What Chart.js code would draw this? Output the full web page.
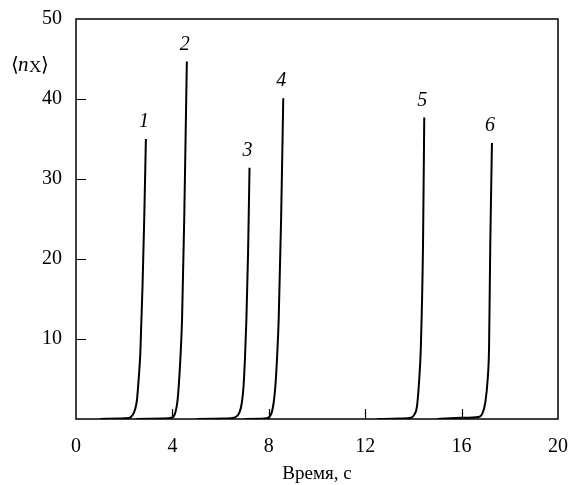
<!DOCTYPE html>
<html>
<head>
<meta charset="utf-8">
<script src="https://cdn.jsdelivr.net/npm/chart.js@4"></script>
<style>
    html, body { margin: 0; padding: 0; background: #fff; overflow: hidden; }
    #contenedor { width: 570px; height: 485px; }
    canvas { display: block; }
</style>
</head>
<body>
<div id="contenedor"><canvas id="grafica"></canvas></div>
<script>
// curvas (x en segundos, y = <nX>)
const x1 = [1.0, 1.8, 2.2, 2.35, 2.45, 2.53, 2.60, 2.67, 2.76, 2.83, 2.90];
const y1 = [0, 0.05, 0.12, 0.5, 1.2, 2.4, 5.0, 8.3, 16.6, 24.9, 35.0];
const x2 = [2.5, 3.6, 4.0, 4.12, 4.2, 4.26, 4.33, 4.40, 4.49, 4.56, 4.60];
const y2 = [0, 0.05, 0.2, 0.8, 2.0, 4.0, 7.5, 12.4, 24.9, 37.5, 44.7];
const x3 = [5.0, 6.2, 6.6, 6.78, 6.88, 6.95, 7.01, 7.07, 7.14, 7.20];
const y3 = [0, 0.05, 0.2, 0.8, 2.0, 4.0, 7.5, 12.4, 20.8, 31.4];
const x4 = [7.0, 7.8, 8.0, 8.12, 8.2, 8.27, 8.34, 8.41, 8.51, 8.60];
const y4 = [0, 0.05, 0.2, 0.8, 2.0, 4.0, 7.5, 12.4, 24.9, 40.1];
const x5 = [12.5, 13.5, 13.9, 14.05, 14.15, 14.24, 14.31, 14.40, 14.45];
const y5 = [0, 0.05, 0.15, 0.6, 1.6, 4.9, 9.1, 22.0, 37.7];
const x6 = [15.0, 16.0, 16.7, 16.85, 16.98, 17.08, 17.14, 17.19, 17.26];
const y6 = [0, 0.15, 0.25, 0.6, 2.0, 4.9, 9.1, 22.0, 34.5];

const etiquetasCurvas = ['1', '2', '3', '4', '5', '6'];
const ticksX = [0, 4, 8, 12, 16, 20];
const ticksY = [10, 20, 30, 40, 50];
const tituloX = 'Время, с';

const fuente = '"Liberation Serif", "DejaVu Serif", serif';

function armarPuntos(xs, ys) {
    return xs.map((x, i) => ({x: x, y: ys[i]}));
}

const curvas = [[x1, y1], [x2, y2], [x3, y3], [x4, y4], [x5, y5], [x6, y6]];

// marco, marcas interiores, numeros de curva y titulo del eje y
const pluginMarco = {
    id: 'marco',
    afterDatasetsDraw(chart) {
        const ctx = chart.ctx;
        const area = chart.chartArea;
        const escalaX = chart.scales.x;
        const escalaY = chart.scales.y;

        ctx.save();
        ctx.strokeStyle = '#000';
        ctx.lineWidth = 1.5;
        ctx.strokeRect(area.left, area.top, area.right - area.left, area.bottom - area.top);

        ctx.beginPath();
        ticksX.slice(1, -1).forEach(v => {
            const px = Math.round(escalaX.getPixelForValue(v)) + 0.5;
            ctx.moveTo(px, area.bottom);
            ctx.lineTo(px, area.bottom - 10);
        });
        ticksY.slice(0, -1).forEach(v => {
            const py = Math.round(escalaY.getPixelForValue(v)) + 0.5;
            ctx.moveTo(area.left, py);
            ctx.lineTo(area.left + 10, py);
        });
        ctx.lineWidth = 1.2;
        ctx.stroke();

        ctx.fillStyle = '#000';
        ctx.font = 'italic 20px ' + fuente;
        ctx.textAlign = 'center';
        ctx.textBaseline = 'middle';
        curvas.forEach((curva, i) => {
            const xs = curva[0];
            const ys = curva[1];
            const ultimo = xs.length - 1;
            const px = escalaX.getPixelForValue(xs[ultimo]) - 2;
            const py = escalaY.getPixelForValue(ys[ultimo]) - 17;
            ctx.fillText(etiquetasCurvas[i], px, py);
        });

        // <nX>
        const yTitulo = 71;
        ctx.textAlign = 'left';
        ctx.textBaseline = 'alphabetic';
        ctx.font = '20px ' + fuente;
        ctx.fillText('⟨', 11, yTitulo);
        ctx.font = 'italic 21px ' + fuente;
        ctx.fillText('n', 18, yTitulo);
        ctx.font = '17px ' + fuente;
        ctx.fillText('X', 29, yTitulo + 1);
        ctx.font = '20px ' + fuente;
        ctx.fillText('⟩', 41, yTitulo);
        ctx.restore();
    }
};

function dibujarGrafica() {
    const lienzo = document.getElementById('grafica');

    const configuracion = {
        type: 'scatter',
        data: {
            datasets: curvas.map((curva, i) => ({
                label: etiquetasCurvas[i],
                data: armarPuntos(curva[0], curva[1]),
                showLine: true,
                borderColor: '#000',
                borderWidth: 2,
                pointRadius: 0,
                cubicInterpolationMode: 'monotone',
                fill: false
            }))
        },
        options: {
            responsive: true,
            maintainAspectRatio: false,
            animation: false,
            layout: {
                padding: {top: 19, right: 12, left: 0, bottom: 0}
            },
            plugins: {
                legend: {display: false},
                tooltip: {enabled: false}
            },
            scales: {
                x: {
                    type: 'linear',
                    min: 0,
                    max: 20,
                    afterBuildTicks: escala => {
                        escala.ticks = ticksX.map(v => ({value: v}));
                    },
                    afterFit: escala => {
                        escala.height = 66;
                    },
                    // marcas invisibles: solo separan los numeros del eje
                    grid: {display: false, drawTicks: true, tickLength: 16},
                    border: {display: false},
                    ticks: {
                        color: '#000',
                        padding: 0,
                        maxRotation: 0,
                        font: {family: fuente, size: 20}
                    },
                    title: {
                        display: true,
                        text: tituloX,
                        color: '#000',
                        padding: {top: 0, bottom: 0},
                        font: {family: fuente, size: 19}
                    }
                },
                y: {
                    type: 'linear',
                    min: 0,
                    max: 50,
                    afterBuildTicks: escala => {
                        escala.ticks = ticksY.map(v => ({value: v}));
                    },
                    afterFit: escala => {
                        escala.width = 76;
                    },
                    grid: {display: false, drawTicks: true, tickLength: 14},
                    border: {display: false},
                    ticks: {
                        color: '#000',
                        padding: 0,
                        font: {family: fuente, size: 20}
                    }
                }
            }
        },
        plugins: [pluginMarco]
    };

    new Chart(lienzo, configuracion);
}

document.addEventListener('DOMContentLoaded', () => {
    dibujarGrafica();
});
</script>
</body>
</html>
